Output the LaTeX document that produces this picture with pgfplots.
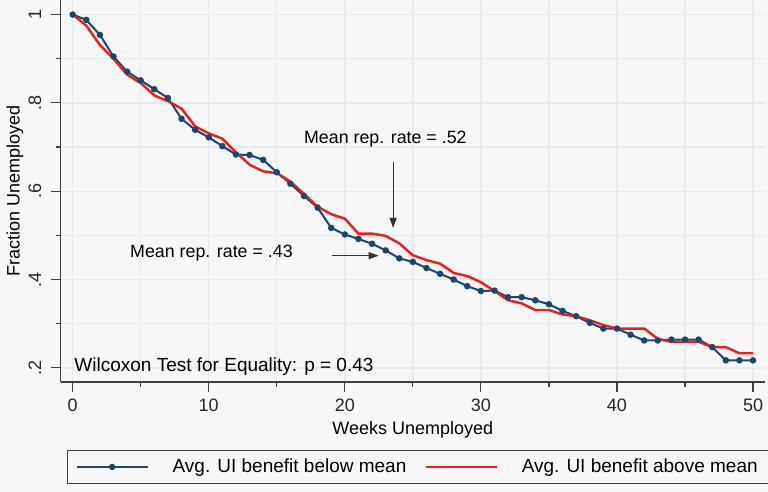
\documentclass[border=0pt]{standalone}
\usepackage{fontspec}
\setmainfont{Liberation Sans}
\usepackage{pgfplots}
\pgfplotsset{compat=1.18}
\usetikzlibrary{arrows.meta}

\definecolor{bg}{HTML}{F7F7F7}
\definecolor{gridc}{HTML}{E1ECF0}
\definecolor{navy}{HTML}{1A476F}
\definecolor{ured}{HTML}{F21B1B}
\definecolor{axc}{HTML}{404040}

% weeks unemployed, fraction still unemployed
\pgfplotstableread{
w f
0 1.000
1 0.988
2 0.954
3 0.905
4 0.871
5 0.851
6 0.831
7 0.811
8 0.764
9 0.739
10 0.722
11 0.702
12 0.683
13 0.682
14 0.671
15 0.643
16 0.617
17 0.589
18 0.563
19 0.517
20 0.502
21 0.492
22 0.481
23 0.466
24 0.448
25 0.440
26 0.426
27 0.413
28 0.400
29 0.385
30 0.374
31 0.375
32 0.360
33 0.360
34 0.353
35 0.344
36 0.329
37 0.317
38 0.302
39 0.289
40 0.289
41 0.275
42 0.262
43 0.262
44 0.264
45 0.264
46 0.264
47 0.247
48 0.217
49 0.217
50 0.217
}\below

\pgfplotstableread{
w f
0 1.000
1 0.975
2 0.931
3 0.900
4 0.864
5 0.845
6 0.817
7 0.804
8 0.787
9 0.747
10 0.731
11 0.719
12 0.688
13 0.660
14 0.645
15 0.641
16 0.622
17 0.594
18 0.565
19 0.548
20 0.538
21 0.504
22 0.504
23 0.499
24 0.482
25 0.455
26 0.444
27 0.436
28 0.415
29 0.408
30 0.394
31 0.374
32 0.353
33 0.346
34 0.331
35 0.331
36 0.321
37 0.317
38 0.308
39 0.297
40 0.289
41 0.289
42 0.289
43 0.266
44 0.259
45 0.259
46 0.259
47 0.247
48 0.247
49 0.233
50 0.233
}\above

\begin{document}
\begin{tikzpicture}[font=\fontsize{9}{11}\selectfont]
\path[use as bounding box, fill=bg] (-30.35pt,-55pt) rectangle (353.65pt,191pt);
\begin{axis}[
  at={(0,0)}, anchor=south west,
  scale only axis, width=352.15pt, height=191pt,
  xmin=-0.88, xmax=50.88, ymin=0.168, ymax=1.033,
  axis lines*=left,
  axis line style={axc, line width=0.6pt},
  xtick={0,10,...,50}, minor xtick={5,15,...,45},
  ytick={0.2,0.4,0.6,0.8,1}, yticklabels={.2,.4,.6,.8,1},
  minor ytick={0.3,0.5,0.7,0.9},
  /pgf/number format/assume math mode=true,
  tick align=outside,
  major tick length=5pt, minor tick length=2.5pt,
  tick style={axc, line width=0.6pt},
  grid=both,
  major grid style={gridc, line width=0.7pt},
  minor grid style={gridc, line width=0.7pt},
  ticklabel style={text=black!85},
  yticklabel style={rotate=90, anchor=south, yshift=1.2pt},
  xlabel={Weeks Unemployed},
  ylabel={Fraction Unemployed},
  xlabel style={at={(axis description cs:0.5,-0.1257)}, anchor=center},
  ylabel style={at={(axis description cs:-0.0648,0.5)}, anchor=center},
  legend columns=2,
  legend cell align=left,
  legend style={at={(axis description cs:0.009,-0.178)}, anchor=north west,
    draw=axc, fill=bg, line width=0.6pt, inner xsep=4pt, inner ysep=2pt,
    font=\fontsize{9.5}{11}\selectfont,
    /tikz/every odd column/.append style={column sep=10pt},
    /tikz/every even column/.append style={column sep=7pt}},
  legend image code/.code={\draw[#1, mark repeat=2, mark phase=2]
    plot coordinates {(0pt,0pt) (17.75pt,0pt) (35.5pt,0pt)};},
]
\addplot[navy, line width=1pt, mark=*, mark size=1.1pt] table[x=w, y=f] {\below};
\addlegendentry{Avg. UI benefit below mean}
\addplot[ured, line width=1.2pt] table[x=w, y=f] {\above};
\addlegendentry{Avg. UI benefit above mean}

\node[font=\fontsize{8.9}{10}\selectfont] at (axis cs:22.98,0.717) {Mean rep. rate = .52};
\draw[-{Triangle[length=5pt,width=3.5pt]}, black!80, line width=0.5pt] (axis cs:23.55,0.667) -- (axis cs:23.55,0.517);
\node[font=\fontsize{8.9}{10}\selectfont] at (axis cs:10.2,0.459) {Mean rep. rate = .43};
\draw[-{Triangle[length=5pt,width=3.5pt]}, black!80, line width=0.5pt] (axis cs:19.07,0.454) -- (axis cs:22.49,0.454);
\node[anchor=west, inner sep=0pt, font=\fontsize{9.5}{11}\selectfont] at (axis cs:0.1,0.202) {Wilcoxon Test for Equality: p = 0.43};
\end{axis}
\end{tikzpicture}
\end{document}
